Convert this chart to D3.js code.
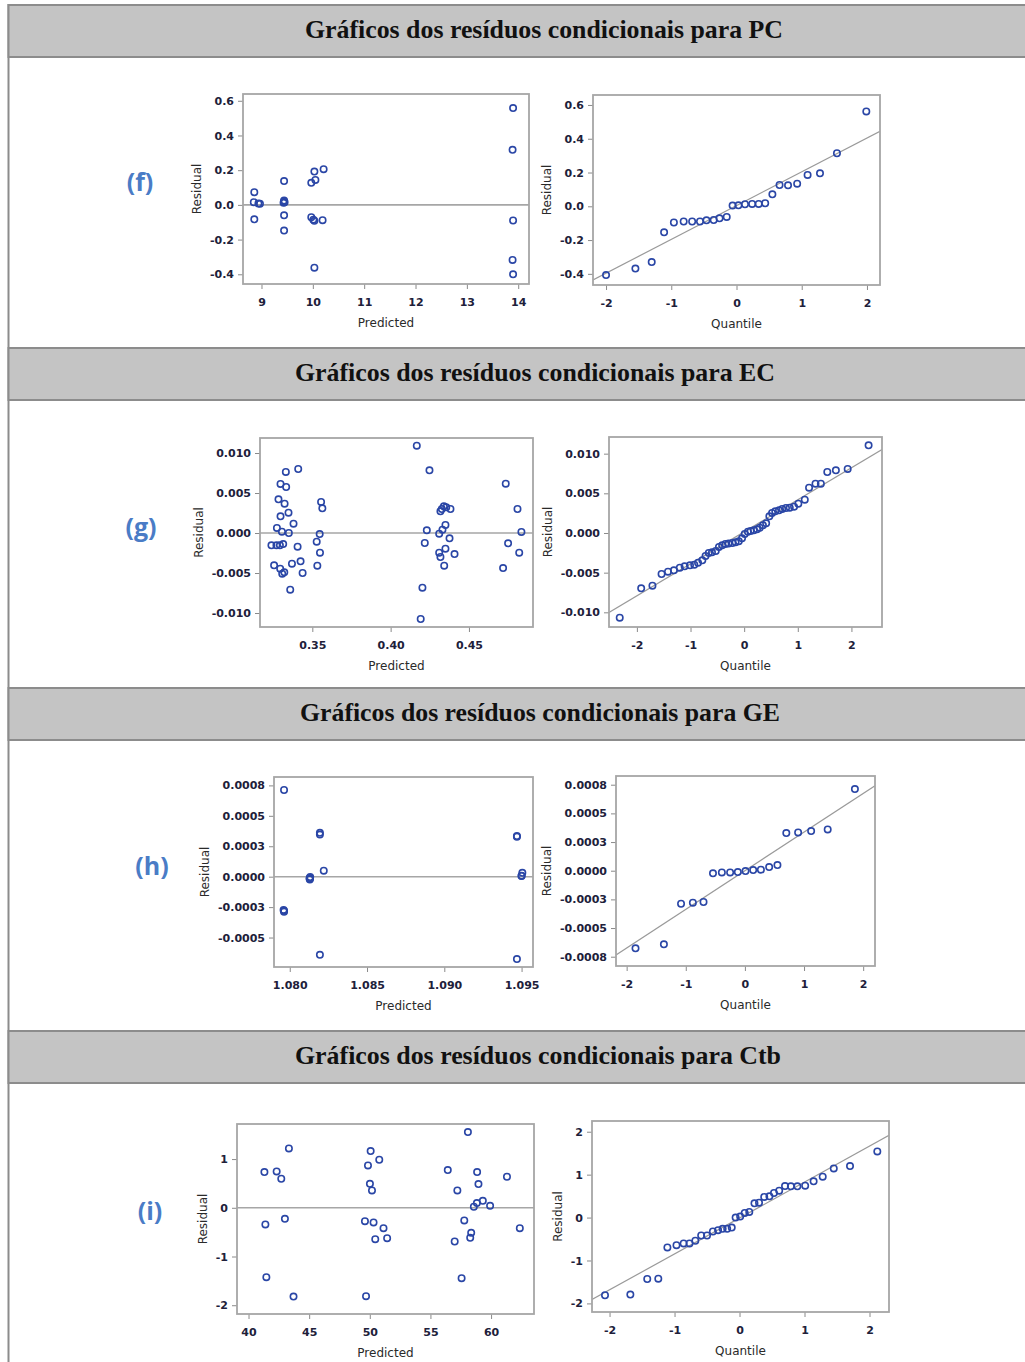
<!DOCTYPE html>
<html>
<head>
<meta charset="utf-8">
<script src="https://cdn.jsdelivr.net/npm/d3@7"></script>
<style>
	body { margin: 0; background: #fff; }
	.tick text { font-family: "DejaVu Sans", sans-serif; font-size: 11px; font-weight: bold; fill: #20203a; }
	.tick line { stroke: #8a8a8a; }
	.domain { display: none; }
</style>
</head>
<body>
<svg id="svg" width="1025" height="1362"></svg>
<script>
// section titles and tags
var sectionTitles = [
	"Gráficos dos resíduos condicionais para PC",
	"Gráficos dos resíduos condicionais para EC",
	"Gráficos dos resíduos condicionais para GE",
	"Gráficos dos resíduos condicionais para Ctb"
];
var sectionTags = ["(f)", "(g)", "(h)", "(i)"];

// (f) PC
var fPredicted = [8.86, 8.85, 8.94, 8.97, 8.86, 9.44, 9.44, 9.45, 9.43, 9.44, 9.44, 9.44, 9.97, 10.03, 10.05, 10.21, 9.97, 10.01, 10.03, 10.19, 10.03, 13.9, 13.89, 13.9, 13.89, 13.9];
var fResidual = [0.073, 0.015, 0.008, 0.006, -0.083, 0.137, 0.025, 0.015, 0.012, 0.02, -0.06, -0.148, 0.127, 0.192, 0.144, 0.206, -0.071, -0.085, -0.092, -0.088, -0.362, 0.558, 0.317, -0.09, -0.317, -0.4];
var fQuantile = [-2.0, -1.55, -1.30, -1.11, -0.96, -0.81, -0.68, -0.56, -0.46, -0.35, -0.26, -0.15, -0.06, 0.03, 0.13, 0.24, 0.34, 0.44, 0.55, 0.66, 0.79, 0.93, 1.09, 1.28, 1.54, 1.99];
var fQqResidual = [-0.407, -0.369, -0.33, -0.154, -0.096, -0.09, -0.09, -0.09, -0.083, -0.081, -0.071, -0.063, 0.004, 0.006, 0.012, 0.014, 0.014, 0.018, 0.071, 0.126, 0.124, 0.134, 0.186, 0.195, 0.314, 0.562];
var fLine = [0.004, 0.2];
var fPredTicks = [9, 10, 11, 12, 13, 14];
var fResTicks = [-0.4, -0.2, 0, 0.2, 0.4, 0.6];

// (g) EC
var gPredicted = [0.3239, 0.3271, 0.3293, 0.3314, 0.3256, 0.3295, 0.3308, 0.3321, 0.3274, 0.3306, 0.3350, 0.3284, 0.3297, 0.3297, 0.3331, 0.3333, 0.3323, 0.3348, 0.3380, 0.3410, 0.3370, 0.3406, 0.3425, 0.3438, 0.3359, 0.3532, 0.3528, 0.3547, 0.3549, 0.3556, 0.3564, 0.4167, 0.4248, 0.4231, 0.4218, 0.4203, 0.4192, 0.4310, 0.4318, 0.4327, 0.4340, 0.4355, 0.4382, 0.4331, 0.4350, 0.4376, 0.4310, 0.4318, 0.4350, 0.4342, 0.4408, 0.4735, 0.4810, 0.4835, 0.4750, 0.4821, 0.4718];
var gResidual = [-0.00154, -0.00154, -0.00154, -0.00138, -0.00404, -0.00446, -0.00508, -0.00492, 0.00063, 0.00017, 0.0, 0.00421, 0.00208, 0.00613, 0.00763, 0.00575, 0.00367, 0.00254, 0.00117, 0.008, -0.00383, -0.00171, -0.00354, -0.005, -0.00708, -0.00408, -0.00108, -0.00013, -0.00246, 0.00388, 0.00308, 0.01092, 0.00783, 0.00033, -0.00125, -0.00683, -0.01075, -0.00008, 0.00271, 0.003, 0.00333, 0.00321, 0.003, 0.00042, 0.001, -0.00067, -0.00246, -0.003, -0.00196, -0.00408, -0.00263, 0.00617, 0.003, 0.00013, -0.00129, -0.00246, -0.00438];
var gQuantile = [-2.32, -1.92, -1.71, -1.54, -1.42, -1.31, -1.20, -1.11, -1.01, -0.93, -0.86, -0.78, -0.72, -0.66, -0.60, -0.53, -0.47, -0.41, -0.35, -0.29, -0.22, -0.16, -0.10, -0.04, 0.01, 0.07, 0.12, 0.18, 0.24, 0.29, 0.35, 0.41, 0.47, 0.52, 0.58, 0.65, 0.71, 0.78, 0.85, 0.93, 1.01, 1.13, 1.21, 1.33, 1.43, 1.55, 1.71, 1.93, 2.32];
var gQqResidual = [-0.01067, -0.00697, -0.00664, -0.00517, -0.00487, -0.00471, -0.00437, -0.0042, -0.00408, -0.004, -0.00374, -0.00345, -0.0029, -0.00252, -0.00244, -0.00227, -0.00176, -0.00155, -0.00139, -0.00134, -0.00126, -0.00118, -0.00105, -0.00067, -0.00013, 0.00017, 0.00025, 0.00034, 0.00046, 0.00067, 0.00097, 0.00122, 0.0021, 0.00252, 0.00273, 0.00286, 0.00303, 0.00315, 0.00319, 0.00332, 0.0037, 0.0042, 0.00571, 0.00622, 0.00622, 0.00769, 0.0079, 0.00807, 0.01105];
var gLine = [0.00015, 0.00404];
var gPredTicks = [0.35, 0.40, 0.45];
var gResTicks = [-0.010, -0.005, 0, 0.005, 0.010];

// (h) GE
var hPredicted = [1.07963, 1.07963, 1.07963, 1.0796, 1.08195, 1.08195, 1.0822, 1.08195, 1.0813, 1.0813, 1.08128, 1.0813, 1.08132, 1.0947, 1.0947, 1.0950, 1.0950, 1.09505, 1.0947];
var hResidual = [0.000712, -0.000288, -0.000279, -0.000273, 0.000346, 0.00036, 0.000049, -0.000642, -0.000023, -0.0000145, -0.0000145, -0.0000116, -0.0000029, 0.000328, 0.000334, 0.0000058, 0.0000087, 0.000032, -0.000677];
var hQuantile = [-1.85, -1.37, -1.08, -0.88, -0.70, -0.54, -0.39, -0.25, -0.12, 0.01, 0.14, 0.27, 0.41, 0.55, 0.70, 0.90, 1.12, 1.40, 1.86];
var hQqResidual = [-0.000677, -0.000642, -0.000288, -0.000279, -0.000273, -0.000023, -0.0000145, -0.0000145, -0.0000116, -0.0000029, 0.0000058, 0.0000087, 0.000032, 0.000049, 0.000328, 0.000334, 0.000346, 0.00036, 0.000712];
var hLine = [0, 0.000337];
var hPredTicks = [1.080, 1.085, 1.090, 1.095];
var hResTicks = [0.00075, 0.0005, 0.00025, 0, -0.00025, -0.0005, -0.00075];
var hResLabels = ["0.0008", "0.0005", "0.0003", "0.0000", "-0.0003", "-0.0005", "-0.0008"];

// (i) Ctb
var iPredicted = [41.31, 42.32, 42.70, 43.33, 41.39, 43.00, 41.47, 43.71, 50.07, 50.78, 49.85, 50.01, 50.18, 49.60, 50.31, 51.13, 50.45, 51.43, 49.69, 58.09, 56.43, 57.22, 58.85, 58.96, 59.32, 58.83, 58.58, 59.92, 61.31, 57.79, 58.36, 58.28, 57.00, 57.57, 62.37];
var iResidual = [0.733, 0.747, 0.596, 1.219, -0.342, -0.226, -1.425, -1.822, 1.164, 0.986, 0.870, 0.493, 0.356, -0.274, -0.301, -0.418, -0.644, -0.623, -1.815, 1.555, 0.774, 0.356, 0.733, 0.486, 0.144, 0.096, 0.021, 0.041, 0.637, -0.260, -0.514, -0.616, -0.692, -1.445, -0.418];
var iQuantile = [-2.07, -1.68, -1.42, -1.25, -1.11, -0.97, -0.86, -0.77, -0.68, -0.59, -0.50, -0.41, -0.33, -0.26, -0.19, -0.12, -0.06, 0.01, 0.08, 0.15, 0.23, 0.30, 0.38, 0.46, 0.53, 0.61, 0.70, 0.79, 0.89, 1.01, 1.14, 1.28, 1.45, 1.70, 2.12];
var iQqResidual = [-1.81, -1.795, -1.431, -1.424, -0.696, -0.642, -0.603, -0.603, -0.54, -0.418, -0.418, -0.325, -0.294, -0.263, -0.263, -0.232, 0.0, 0.023, 0.108, 0.132, 0.333, 0.348, 0.480, 0.495, 0.573, 0.627, 0.735, 0.727, 0.727, 0.743, 0.844, 0.952, 1.145, 1.199, 1.54];
var iLine = [-0.01, 0.837];
var iPredTicks = [40, 45, 50, 55, 60];
var iResTicks = [-2, -1, 0, 1];
var iQqResTicks = [-2, -1, 0, 1, 2];

var quantileTicks = [-2, -1, 0, 1, 2];

// layout
var headerTop = [5, 348, 688, 1031];
var headerHeight = 52;
var titleX = [544, 535, 540, 538];
var titleWidth = [478, 480, 480, 486];
var tagX = [140, 141, 152, 150];
var tagY = [182, 527, 866, 1211];

var markColor = "#2a46a6";
var gridColor = "#a6a6a6";

var svg = d3.select("#svg");
var clipCount = 0;

draw();

function fmt(spec) {
	var f = d3.format(spec);
	return function(d) { return f(d).replace("\u2212", "-"); };
}

function draw() {
	"use strict"

	// page frame
	svg.append("line")
		.attr("x1", 8.5).attr("x2", 8.5)
		.attr("y1", 4).attr("y2", 1362)
		.attr("stroke", "#8c8c8c")
		.attr("stroke-width", 2);

	// section headers
	sectionTitles.forEach(function(t, i) {
		svg.append("rect")
			.attr("x", 8.5)
			.attr("y", headerTop[i])
			.attr("width", 1030)
			.attr("height", headerHeight)
			.attr("fill", "#c4c4c4")
			.attr("stroke", "#8c8c8c")
			.attr("stroke-width", 2);
		svg.append("text")
			.attr("x", titleX[i])
			.attr("y", headerTop[i] + 33)
			.attr("text-anchor", "middle")
			.attr("textLength", titleWidth[i])
			.attr("lengthAdjust", "spacingAndGlyphs")
			.style("font-family", "'Liberation Serif', serif")
			.style("font-weight", "bold")
			.style("font-size", "25px")
			.style("fill", "#111")
			.text(t);
		svg.append("text")
			.attr("x", tagX[i])
			.attr("y", tagY[i] + 9)
			.attr("text-anchor", "middle")
			.style("font-family", "'Open Sans', sans-serif")
			.style("font-weight", "bold")
			.style("font-size", "25px")
			.style("fill", "#4a7cc6")
			.text(sectionTags[i]);
	});

	var panels = [
		{ xs: fPredicted, ys: fResidual, xDomain: [8.64, 14.21], yDomain: [-0.456, 0.639], xTicks: fPredTicks, yTicks: fResTicks, xFmt: fmt("d"), yFmt: fmt(".1f"), xLabel: "Predicted", box: [243, 529, 94, 284] },
		{ xs: fQuantile, ys: fQqResidual, line: fLine, xDomain: [-2.2, 2.2], yDomain: [-0.466, 0.659], xTicks: quantileTicks, yTicks: fResTicks, xFmt: fmt("d"), yFmt: fmt(".1f"), xLabel: "Quantile", box: [593, 880, 95, 285] },
		{ xs: gPredicted, ys: gResidual, xDomain: [0.3166, 0.4909], yDomain: [-0.01175, 0.011875], xTicks: gPredTicks, yTicks: gResTicks, xFmt: fmt(".2f"), yFmt: fmt(".3f"), xLabel: "Predicted", box: [260, 533, 438, 627] },
		{ xs: gQuantile, ys: gQqResidual, line: gLine, xDomain: [-2.52, 2.57], yDomain: [-0.01185, 0.0121], xTicks: quantileTicks, yTicks: gResTicks, xFmt: fmt("d"), yFmt: fmt(".3f"), xLabel: "Quantile", box: [609, 882, 437, 627] },
		{ xs: hPredicted, ys: hResidual, xDomain: [1.07898, 1.09574], yDomain: [-0.000742, 0.000819], xTicks: hPredTicks, yTicks: hResTicks.slice(0, 6), xFmt: fmt(".3f"), yFmt: function(d, i) { return hResLabels[i]; }, xLabel: "Predicted", box: [274, 533, 777, 967] },
		{ xs: hQuantile, ys: hQqResidual, line: hLine, xDomain: [-2.18, 2.2], yDomain: [-0.000831, 0.000826], xTicks: quantileTicks, yTicks: hResTicks, xFmt: fmt("d"), yFmt: function(d, i) { return hResLabels[i]; }, xLabel: "Quantile", box: [616, 875, 776, 966] },
		{ xs: iPredicted, ys: iResidual, xDomain: [39.05, 63.54], yDomain: [-2.18, 1.72], xTicks: iPredTicks, yTicks: iResTicks, xFmt: fmt("d"), yFmt: fmt("d"), xLabel: "Predicted", box: [237, 534, 1124, 1314] },
		{ xs: iQuantile, ys: iQqResidual, line: iLine, xDomain: [-2.27, 2.3], yDomain: [-2.2, 2.25], xTicks: quantileTicks, yTicks: iQqResTicks, xFmt: fmt("d"), yFmt: fmt("d"), xLabel: "Quantile", box: [592, 889, 1121, 1312] }
	];

	panels.forEach(DrawPanel);
}

function DrawPanel(p) {
	var left = p.box[0], right = p.box[1], top = p.box[2], bottom = p.box[3];
	var x = d3.scaleLinear().domain(p.xDomain).range([left, right]);
	var y = d3.scaleLinear().domain(p.yDomain).range([bottom, top]);
	var g = svg.append("g");

	var clipId = "clip" + (clipCount++);
	g.append("clipPath").attr("id", clipId)
		.append("rect")
		.attr("x", left).attr("y", top)
		.attr("width", right - left).attr("height", bottom - top);

	// axes
	var yAxis = g.append("g")
		.attr("transform", "translate(" + left + ",0)")
		.call(d3.axisLeft(y).tickValues(p.yTicks).tickFormat(p.yFmt).tickSizeOuter(0).tickSize(5).tickPadding(4));
	g.append("g")
		.attr("transform", "translate(0," + bottom + ")")
		.call(d3.axisBottom(x).tickValues(p.xTicks).tickFormat(p.xFmt).tickSizeOuter(0).tickSize(5).tickPadding(9));

	// reference line
	var plot = g.append("g").attr("clip-path", "url(#" + clipId + ")");
	if (p.line) {
		plot.append("line")
			.attr("x1", x(p.xDomain[0]))
			.attr("y1", y(p.line[0] + p.line[1] * p.xDomain[0]))
			.attr("x2", x(p.xDomain[1]))
			.attr("y2", y(p.line[0] + p.line[1] * p.xDomain[1]))
			.attr("stroke", "#9a9a9a")
			.attr("stroke-width", 1.2);
	} else {
		plot.append("line")
			.attr("x1", left).attr("x2", right)
			.attr("y1", y(0)).attr("y2", y(0))
			.attr("stroke", gridColor)
			.attr("stroke-width", 1.6);
	}

	// points
	plot.selectAll(".pt").data(p.xs).enter()
		.append("circle")
		.attr("class", "pt")
		.attr("cx", function(d) { return x(d); })
		.attr("cy", function(d, i) { return y(p.ys[i]); })
		.attr("r", 3.2)
		.attr("fill", "none")
		.attr("stroke", markColor)
		.attr("stroke-width", 1.6);

	// frame
	g.append("rect")
		.attr("x", left).attr("y", top)
		.attr("width", right - left).attr("height", bottom - top)
		.attr("fill", "none")
		.attr("stroke", gridColor)
		.attr("stroke-width", 1.8);

	// axis titles
	var minX = d3.min(yAxis.selectAll("text").nodes(), function(n) { return n.getBBox().x; }) + left;
	g.append("text")
		.attr("transform", "translate(" + (minX - 9) + "," + ((top + bottom) / 2) + ") rotate(-90)")
		.attr("text-anchor", "middle")
		.style("font-family", "'DejaVu Sans', sans-serif")
		.style("font-size", "12px")
		.style("fill", "#2a2a2a")
		.text("Residual");
	g.append("text")
		.attr("x", (left + right) / 2)
		.attr("y", bottom + 43)
		.attr("text-anchor", "middle")
		.style("font-family", "'DejaVu Sans', sans-serif")
		.style("font-size", "12px")
		.style("fill", "#2a2a2a")
		.text(p.xLabel);
}
</script>
</body>
</html>
